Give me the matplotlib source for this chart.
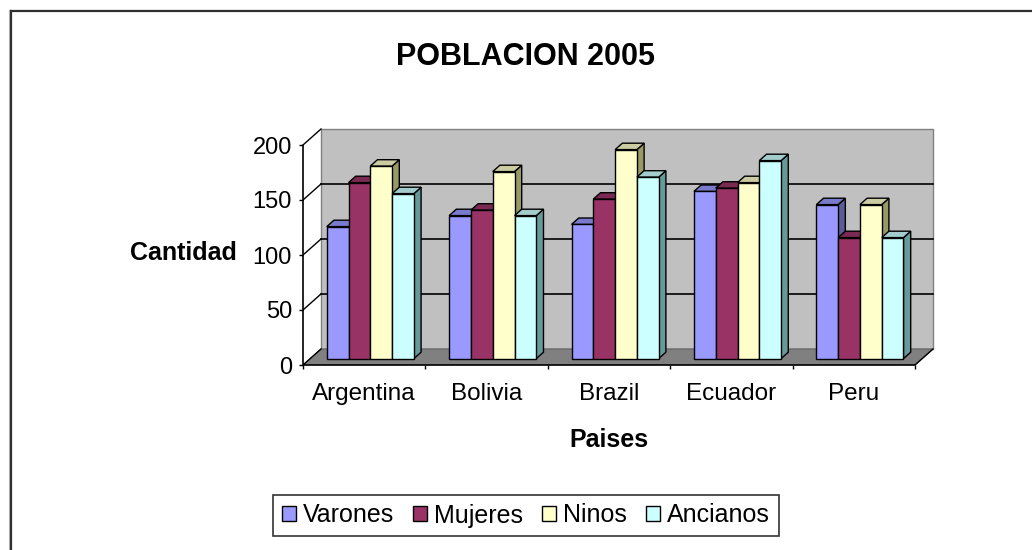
import matplotlib
matplotlib.use("Agg")
import matplotlib.pyplot as plt
from matplotlib.patches import Polygon, Patch
from matplotlib.lines import Line2D

plt.rcParams['font.family'] = ['Liberation Sans', 'DejaVu Sans']

# ---- data ----
categories = ['Argentina', 'Bolivia', 'Brazil', 'Ecuador', 'Peru']
series_names = ['Varones', 'Mujeres', 'Ninos', 'Ancianos']
varones = [120, 130, 122, 152, 140]
mujeres = [160, 135, 145, 155, 110]
ninos = [175, 170, 190, 160, 140]
ancianos = [150, 130, 165, 180, 110]
y_ticks = [0, 50, 100, 150, 200]
title = 'POBLACION 2005'
x_title = 'Paises'
y_title = 'Cantidad'

series = [varones, mujeres, ninos, ancianos]
front_colors = ['#9999FF', '#993366', '#FFFFCC', '#CCFFFF']
top_colors = ['#7A7ACC', '#7A2952', '#CCCCA3', '#A3CCCC']
side_colors = ['#5C5C99', '#5C1F3D', '#999966', '#669999']

W, H = 1032, 550
fig = plt.figure(figsize=(W / 100, H / 100), dpi=100)

# axes placement in pixels
ax_l, ax_b = 303, 365          # front-left origin of the plot (px)
x_max, y_max = 5.2, 218
px_per_x = 122.4
px_per_y = 1.1
ax_w = x_max * px_per_x
ax_h = y_max * px_per_y
ax = fig.add_axes([ax_l / W, (H - ax_b) / H, ax_w / W, ax_h / H])
ax.set_xlim(0, x_max)
ax.set_ylim(0, y_max)
ax.patch.set_visible(False)

n_cat = len(categories)
DX = 18 / px_per_x     # depth offset in data units
DY = 16 / px_per_y
FRONT = 0.40
DEPTH = 0.40

# back wall
wall = Polygon([(DX, DY), (n_cat + DX, DY), (n_cat + DX, y_ticks[-1] + DY), (DX, y_ticks[-1] + DY)],
               closed=True, facecolor='#C0C0C0', edgecolor='#808080', lw=1, zorder=1)
ax.add_patch(wall)
# floor
floor = Polygon([(0, 0), (n_cat, 0), (n_cat + DX, DY), (DX, DY)], closed=True,
                facecolor='#808080', edgecolor='#606060', lw=0.8, zorder=1.5)
ax.add_patch(floor)
# gridlines on back wall and left wall
for v in y_ticks:
    if 0 < v < y_ticks[-1]:
        ax.plot([DX, n_cat + DX], [v + DY, v + DY], color='black', lw=1.2, zorder=2)
    ax.plot([0, DX], [v, v + DY], color='black', lw=1.0, zorder=2)
ax.plot([n_cat, n_cat + DX], [0, DY], color='black', lw=1.0, zorder=2)

# bars
w = 0.178
sx, sy = DEPTH * DX, DEPTH * DY
base = FRONT * DY
z = 3
for i in range(n_cat):
    for j, vals in enumerate(series):
        h = vals[i]
        x0 = i + 0.5 - 2 * w + j * w + FRONT * DX * 0.85
        side = Polygon([(x0 + w, base), (x0 + w + sx, base + sy), (x0 + w + sx, base + h + sy), (x0 + w, base + h)],
                       closed=True, facecolor=side_colors[j], edgecolor='black', lw=1.0, zorder=z)
        top = Polygon([(x0, base + h), (x0 + w, base + h), (x0 + w + sx, base + h + sy), (x0 + sx, base + h + sy)],
                      closed=True, facecolor=top_colors[j], edgecolor='black', lw=1.0, zorder=z)
        ax.add_patch(side)
        ax.add_patch(top)
        ax.bar(x0 + w / 2, h, width=w, bottom=base, color=front_colors[j], edgecolor='black',
               lw=1.0, zorder=z + 0.5)
        z += 1

# axes / ticks
for s in ['top', 'right']:
    ax.spines[s].set_visible(False)
ax.spines['left'].set_bounds(0, y_ticks[-1])
ax.spines['bottom'].set_bounds(0, n_cat)
ax.spines['left'].set_zorder(50)
ax.spines['bottom'].set_zorder(50)
ax.spines['left'].set_linewidth(1.2)
ax.spines['bottom'].set_linewidth(1.2)
ax.set_yticks(y_ticks)
ax.set_yticklabels([str(v) for v in y_ticks])
ax.tick_params(axis='y', direction='out', length=3, width=1, pad=5, labelsize=17, colors='black')
ax.set_xticks(range(n_cat + 1))
ax.set_xticklabels([])
ax.set_xticks([i + 0.5 for i in range(n_cat)], minor=True)
ax.set_xticklabels(categories, minor=True)
ax.tick_params(axis='x', which='major', direction='out', length=3, width=1)
ax.tick_params(axis='x', which='minor', length=0, pad=13, labelsize=17.5)

ax.set_ylabel(y_title, rotation=0, ha='center', va='center', fontsize=18, fontweight='bold')
ax.yaxis.set_label_coords((183 - ax_l) / ax_w, (ax_b - 253) / ax_h)
ax.set_xlabel(x_title, ha='center', va='center', fontsize=18, fontweight='bold')
ax.xaxis.set_label_coords((609 - ax_l) / ax_w, (ax_b - 440) / ax_h)

fig.text(526 / W, 1 - 57 / H, title, ha='center', va='center', fontsize=22, fontweight='bold')

handles = [Patch(facecolor=c, edgecolor='black', lw=1.0) for c in front_colors]
leg = fig.legend(handles, series_names, loc='center', bbox_to_anchor=(526 / W, 1 - 515.5 / H),
                 ncol=4, frameon=True, fancybox=False, edgecolor='black', fontsize=18,
                 handlelength=0.55, handleheight=0.55, handletextpad=0.3, columnspacing=0.75,
                 borderpad=0.35, borderaxespad=0)
leg.get_frame().set_linewidth(1.2)

# chart area border (top and left only visible)
fig.add_artist(Line2D([9 / W, 1], [1 - 9.5 / H, 1 - 9.5 / H], color='#BBBBBB', lw=0.8))
fig.add_artist(Line2D([11 / W, 1], [1 - 10.8 / H, 1 - 10.8 / H], color='#303030', lw=1.6))
fig.add_artist(Line2D([9 / W, 9 / W], [0, 1 - 9.5 / H], color='#BBBBBB', lw=0.8))
fig.add_artist(Line2D([11 / W, 11 / W], [0, 1 - 10.8 / H], color='#303030', lw=1.6))

fig.savefig('out.png', dpi=100)
